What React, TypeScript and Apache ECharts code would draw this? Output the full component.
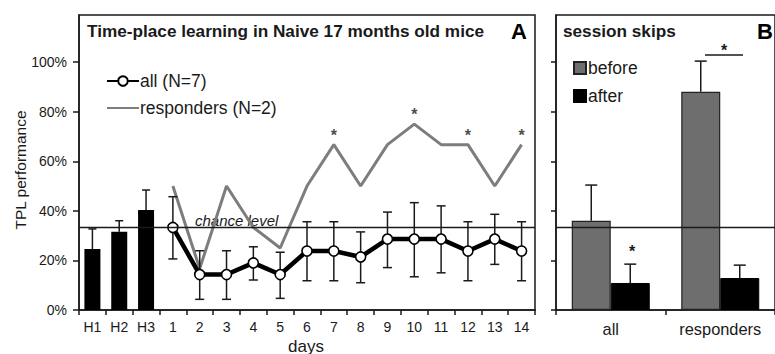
import React, { useEffect, useRef } from "react";
import * as echarts from "echarts";

const FONT = '"Liberation Sans", Arial, Helvetica, sans-serif';

// Panel A
const categoriesA = ["H1", "H2", "H3", "1", "2", "3", "4", "5", "6", "7", "8", "9", "10", "11", "12", "13", "14"];
const habitCats = ["H1", "H2", "H3"];
const habitValues = [24.6, 31.6, 40.3];
const habitErrHigh = [32.7, 36.0, 48.4];
const dayCats = ["1", "2", "3", "4", "5", "6", "7", "8", "9", "10", "11", "12", "13", "14"];
const allValues = [33.3, 14.3, 14.3, 19.0, 14.3, 23.8, 23.8, 21.4, 28.6, 28.6, 28.6, 23.8, 28.6, 23.8];
const allErrLow = [20.6, 4.3, 4.3, 12.1, 4.7, 11.8, 11.8, 11.0, 17.1, 13.4, 15.0, 11.8, 18.4, 11.8];
const allErrHigh = [45.7, 23.9, 23.9, 25.5, 23.3, 35.6, 35.6, 31.5, 39.5, 43.3, 42.0, 35.6, 38.6, 35.6];
const responderValues = [50, 16.7, 50, 33.3, 25, 50, 66.7, 50, 66.7, 75, 66.7, 66.7, 50, 66.7];
const starDays = ["7", "10", "12", "14"];
const chanceLevel = 33.33;
const yTicks = [0, 20, 40, 60, 80, 100];

// Panel B
const categoriesB = ["all", "responders"];
const beforeValues = [36.0, 88.0];
const beforeErrHigh = [50.4, 100.4];
const afterValues = [10.9, 12.9];
const afterErrHigh = [18.5, 18.1];

const INK = "#1a1a1a";

function errorRender(offset: number, capW: number, capLow: boolean) {
  return (params: any, api: any) => {
    const cat = api.value(0);
    const lo = api.value(1);
    const hi = api.value(2);
    const pLo = api.coord([cat, lo]);
    const pHi = api.coord([cat, hi]);
    const cx = pLo[0] + offset;
    const style = { stroke: INK, lineWidth: 1.5 };
    const children: any[] = [
      { type: "line", shape: { x1: cx, y1: pLo[1], x2: cx, y2: pHi[1] }, style },
      { type: "line", shape: { x1: cx - capW / 2, y1: pHi[1], x2: cx + capW / 2, y2: pHi[1] }, style },
    ];
    if (capLow) {
      children.push({ type: "line", shape: { x1: cx - capW / 2, y1: pLo[1], x2: cx + capW / 2, y2: pLo[1] }, style });
    }
    return { type: "group", children };
  };
}

export default function App() {
  const ref = useRef<HTMLDivElement>(null);
  useEffect(() => {
    document.body.style.margin = "0";
    const chart = echarts.init(ref.current!, null, { renderer: "svg" });

    const axisLine = { show: true, lineStyle: { color: INK, width: 1.5 } };
    const padA = (vals: number[], offset: number) => categoriesA.map((c, i) => (i >= offset && i - offset < vals.length ? vals[i - offset] : "-"));

    const option: any = {
      animation: false,
      backgroundColor: "#ffffff",
      textStyle: { fontFamily: FONT },
      grid: [
        { left: 79, top: 15, width: 456, height: 295, show: true, borderColor: INK, borderWidth: 1.5, backgroundColor: "transparent" },
        { left: 556, top: 15, width: 226, height: 295, show: true, borderColor: INK, borderWidth: 1.5, backgroundColor: "transparent" },
      ],
      xAxis: [
        {
          type: "category",
          gridIndex: 0,
          data: categoriesA,
          boundaryGap: true,
          axisLine,
          axisTick: { show: true, alignWithLabel: false, length: 5, lineStyle: { color: INK, width: 1.5 } },
          axisLabel: { color: INK, fontSize: 14, margin: 10, fontFamily: FONT, interval: 0 },
        },
        {
          type: "category",
          gridIndex: 1,
          data: categoriesB,
          boundaryGap: true,
          axisLine,
          axisTick: { show: true, length: 5, lineStyle: { color: INK, width: 1.5 } },
          axisLabel: { color: INK, fontSize: 16.4, margin: 11, fontFamily: FONT, interval: 0 },
        },
      ],
      yAxis: [
        {
          type: "value",
          gridIndex: 0,
          min: 0,
          max: 119,
          interval: 20,
          axisLine,
          splitLine: { show: false },
          axisTick: { show: true, length: 6, customValues: yTicks, lineStyle: { color: INK, width: 1.5 } },
          axisLabel: { color: INK, fontSize: 14, margin: 12, fontFamily: FONT, customValues: yTicks, formatter: "{value}%" },
        },
        {
          type: "value",
          gridIndex: 1,
          min: 0,
          max: 119,
          interval: 20,
          axisLine,
          splitLine: { show: false },
          axisTick: { show: true, length: 5, customValues: yTicks, lineStyle: { color: INK, width: 1.5 } },
          axisLabel: { show: false },
        },
      ],
      legend: [
        {
          orient: "vertical",
          left: 101,
          top: 66,
          itemWidth: 32,
          itemHeight: 12,
          itemGap: 7,
          data: [
            { name: "all (N=7)" },
            { name: "responders (N=2)", itemStyle: { color: "transparent", borderColor: "transparent", opacity: 0 } },
          ],
          textStyle: { fontSize: 17.5, color: INK, fontFamily: FONT, lineHeight: 20, padding: [0, 0, 0, -4] },
        },
        {
          orient: "vertical",
          left: 568,
          top: 53,
          itemWidth: 12,
          itemHeight: 12,
          itemGap: 8,
          icon: "rect",
          data: ["before", "after"],
          textStyle: { fontSize: 17.5, color: INK, fontFamily: FONT, lineHeight: 20, padding: [0, 0, 0, -3] },
        },
      ],
      series: [
        {
          name: "habituation",
          type: "bar",
          xAxisIndex: 0,
          yAxisIndex: 0,
          data: padA(habitValues, 0),
          barWidth: 16,
          itemStyle: { color: "#000000" },
          z: 2,
        },
        {
          name: "habitErr",
          type: "custom",
          xAxisIndex: 0,
          yAxisIndex: 0,
          renderItem: errorRender(0, 8, false),
          encode: { x: 0, y: [1, 2] },
          data: habitCats.map((c, i) => [c, habitValues[i], habitErrHigh[i]]),
          z: 1,
        },
        {
          name: "responders (N=2)",
          type: "line",
          xAxisIndex: 0,
          yAxisIndex: 0,
          data: padA(responderValues, 3),
          symbol: "none",
          lineStyle: { color: "#7d7d7d", width: 3 },
          itemStyle: { color: "#7d7d7d" },
          z: 2,
        },
        {
          name: "dayErr",
          type: "custom",
          xAxisIndex: 0,
          yAxisIndex: 0,
          renderItem: errorRender(0, 9, true),
          encode: { x: 0, y: [1, 2] },
          data: dayCats.map((c, i) => [c, allErrLow[i], allErrHigh[i]]),
          z: 3,
        },
        {
          name: "all (N=7)",
          type: "line",
          xAxisIndex: 0,
          yAxisIndex: 0,
          data: padA(allValues, 3),
          symbol: "circle",
          symbolSize: 10,
          lineStyle: { color: "#000000", width: 4.5 },
          itemStyle: { color: "#ffffff", borderColor: "#000000", borderWidth: 1.6 },
          z: 4,
          markLine: {
            silent: true,
            symbol: "none",
            label: { show: false },
            lineStyle: { color: INK, width: 1.3, type: "solid" },
            data: [{ yAxis: chanceLevel }],
          },
        },
        {
          name: "stars",
          type: "scatter",
          xAxisIndex: 0,
          yAxisIndex: 0,
          data: starDays.map((d) => [d, responderValues[dayCats.indexOf(d)]]),
          symbolSize: 1,
          itemStyle: { color: "transparent" },
          label: { show: true, position: "top", distance: 1, formatter: "*", fontSize: 16, fontWeight: "bold", color: INK, fontFamily: FONT },
          z: 5,
        },
        {
          name: "before",
          type: "bar",
          xAxisIndex: 1,
          yAxisIndex: 1,
          data: beforeValues,
          barWidth: 39,
          barGap: "0%",
          itemStyle: { color: "#6e6e6e", borderColor: "#222222", borderWidth: 1.2 },
          z: 2,
          markLine: {
            silent: true,
            symbol: "none",
            label: { show: false },
            lineStyle: { color: INK, width: 1.3, type: "solid" },
            data: [{ yAxis: chanceLevel }],
            z: 6,
          },
        },
        {
          name: "after",
          type: "bar",
          xAxisIndex: 1,
          yAxisIndex: 1,
          data: afterValues,
          barWidth: 39,
          barGap: "0%",
          itemStyle: { color: "#000000", borderColor: "#000000", borderWidth: 1 },
          z: 2,
        },
        {
          name: "beforeErr",
          type: "custom",
          xAxisIndex: 1,
          yAxisIndex: 1,
          renderItem: errorRender(-19.5, 12, false),
          encode: { x: 0, y: [1, 2] },
          data: categoriesB.map((c, i) => [c, beforeValues[i], beforeErrHigh[i]]),
          z: 1,
        },
        {
          name: "afterErr",
          type: "custom",
          xAxisIndex: 1,
          yAxisIndex: 1,
          renderItem: errorRender(19.5, 12, false),
          encode: { x: 0, y: [1, 2] },
          data: categoriesB.map((c, i) => [c, afterValues[i], afterErrHigh[i]]),
          z: 1,
        },
      ],
      graphic: [
        { type: "text", x: 87, y: 31, style: { text: "Time-place learning in Naive 17 months old mice", font: `bold 17.2px ${FONT}`, fill: INK, align: "left", verticalAlign: "middle" } },
        { type: "text", x: 511, y: 31, style: { text: "A", font: `bold 22px ${FONT}`, fill: "#000", align: "left", verticalAlign: "middle" } },
        { type: "text", x: 563, y: 31, style: { text: "session skips", font: `bold 17.2px ${FONT}`, fill: INK, align: "left", verticalAlign: "middle" } },
        { type: "text", x: 757, y: 31, style: { text: "B", font: `bold 22px ${FONT}`, fill: "#000", align: "left", verticalAlign: "middle" } },
        { type: "text", x: 195, y: 220, style: { text: "chance level", font: `italic 15px ${FONT}`, fill: INK, align: "left", verticalAlign: "middle" } },
        { type: "text", x: 20, y: 170, rotation: Math.PI / 2, style: { text: "TPL performance", font: `15.5px ${FONT}`, fill: INK, align: "center", verticalAlign: "middle" } },
        { type: "text", x: 306, y: 346, style: { text: "days", font: `17px ${FONT}`, fill: INK, align: "center", verticalAlign: "middle" } },
        { type: "line", shape: { x1: 705, y1: 55, x2: 743, y2: 55 }, style: { stroke: INK, lineWidth: 1.5 } },
        { type: "text", x: 724, y: 50, style: { text: "*", font: `bold 16px ${FONT}`, fill: INK, align: "center", verticalAlign: "middle" } },
        { type: "text", x: 632, y: 251, style: { text: "*", font: `bold 16px ${FONT}`, fill: INK, align: "center", verticalAlign: "middle" } },
      ],
    };

    chart.setOption(option);
    return () => chart.dispose();
  }, []);

  return <div ref={ref} style={{ width: 775, height: 354, position: "fixed", left: 0, top: 0 }} />;
}
